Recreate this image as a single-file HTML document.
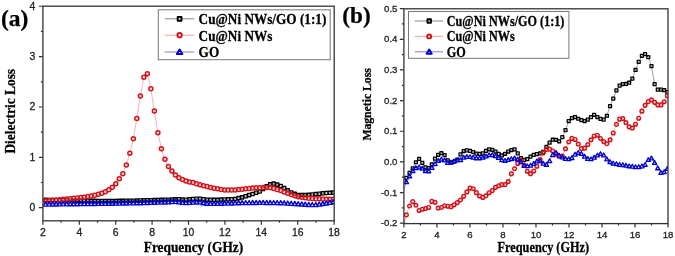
<!DOCTYPE html>
<html><head><meta charset="utf-8"><style>
html,body{margin:0;padding:0;background:#fff;}
body{width:675px;height:256px;overflow:hidden;}
svg{display:block;filter:blur(0.3px);}
.tk{font-family:"Liberation Sans",sans-serif;fill:#222;stroke:#222;stroke-width:0.3px;}
.ti,.lg{font-family:"Liberation Serif",serif;font-weight:bold;fill:#000;stroke:#000;stroke-width:0.25px;}
</style></head><body>
<svg width="675" height="256" viewBox="0 0 675 256">
<defs><clipPath id="ca"><rect x="42.9" y="6.2" width="291.3" height="214.60000000000002"/></clipPath><clipPath id="cb"><rect x="403.9" y="8.8" width="264.1" height="214.79999999999998"/></clipPath></defs>
<g clip-path="url(#ca)">
<path d="M42.9 199.64 L45.63 199.76 L49.14 199.9 L52.65 200.05 L56.16 200.19 L59.66 200.34 L63.17 200.43 L66.68 200.48 L70.19 200.52 L73.7 200.57 L77.21 200.62 L80.71 200.67 L84.22 200.72 L87.73 200.77 L91.24 200.81 L94.75 200.86 L98.26 200.9 L101.76 200.9 L105.27 200.9 L108.78 200.9 L112.29 200.9 L115.8 200.9 L119.31 200.85 L122.82 200.8 L126.32 200.75 L129.83 200.71 L133.34 200.66 L136.85 200.57 L140.36 200.47 L143.87 200.37 L147.37 200.28 L150.88 200.18 L154.39 200.08 L157.9 199.99 L161.41 199.89 L164.92 199.79 L168.43 199.69 L171.93 199.55 L175.44 199.36 L178.95 199.16 L182.46 199.56 L185.97 199.77 L189.48 199.38 L192.98 199 L196.49 198.77 L200 198.72 L203.51 199.2 L207.02 199.65 L210.53 199.75 L214.03 199.85 L217.54 199.8 L221.05 199.6 L224.56 199.41 L228.07 199.3 L231.58 199.21 L235.09 198.9 L238.59 198.12 L242.1 197.35 L245.61 196.29 L249.12 195.13 L252.63 193.95 L256.14 192.74 L259.64 191.46 L263.15 188.87 L266.66 186.31 L270.17 184.31 L273.68 183.57 L277.19 184.64 L280.7 186.03 L284.2 188.11 L287.71 190.34 L291.22 192.42 L294.73 193.88 L298.24 195.11 L301.75 195.11 L305.25 195.11 L308.76 194.89 L312.27 194.5 L315.78 194.12 L319.29 193.73 L322.8 193.34 L326.3 193.02 L329.81 192.83 L333.32 192.64 L334.1 192.59" fill="none" stroke="#888888" stroke-width="0.8"/>
<path d="M44.03 198.16h3.2v3.2h-3.2zM47.54 198.3h3.2v3.2h-3.2zM51.05 198.45h3.2v3.2h-3.2zM54.56 198.59h3.2v3.2h-3.2zM58.06 198.74h3.2v3.2h-3.2zM61.57 198.83h3.2v3.2h-3.2zM65.08 198.88h3.2v3.2h-3.2zM68.59 198.92h3.2v3.2h-3.2zM72.1 198.97h3.2v3.2h-3.2zM75.61 199.02h3.2v3.2h-3.2zM79.11 199.07h3.2v3.2h-3.2zM82.62 199.12h3.2v3.2h-3.2zM86.13 199.17h3.2v3.2h-3.2zM89.64 199.21h3.2v3.2h-3.2zM93.15 199.26h3.2v3.2h-3.2zM96.66 199.3h3.2v3.2h-3.2zM100.16 199.3h3.2v3.2h-3.2zM103.67 199.3h3.2v3.2h-3.2zM107.18 199.3h3.2v3.2h-3.2zM110.69 199.3h3.2v3.2h-3.2zM114.2 199.3h3.2v3.2h-3.2zM117.71 199.25h3.2v3.2h-3.2zM121.22 199.2h3.2v3.2h-3.2zM124.72 199.15h3.2v3.2h-3.2zM128.23 199.11h3.2v3.2h-3.2zM131.74 199.06h3.2v3.2h-3.2zM135.25 198.97h3.2v3.2h-3.2zM138.76 198.87h3.2v3.2h-3.2zM142.27 198.77h3.2v3.2h-3.2zM145.77 198.68h3.2v3.2h-3.2zM149.28 198.58h3.2v3.2h-3.2zM152.79 198.48h3.2v3.2h-3.2zM156.3 198.39h3.2v3.2h-3.2zM159.81 198.29h3.2v3.2h-3.2zM163.32 198.19h3.2v3.2h-3.2zM166.83 198.09h3.2v3.2h-3.2zM170.33 197.95h3.2v3.2h-3.2zM173.84 197.76h3.2v3.2h-3.2zM177.35 197.56h3.2v3.2h-3.2zM180.86 197.96h3.2v3.2h-3.2zM184.37 198.17h3.2v3.2h-3.2zM187.88 197.78h3.2v3.2h-3.2zM191.38 197.4h3.2v3.2h-3.2zM194.89 197.17h3.2v3.2h-3.2zM198.4 197.12h3.2v3.2h-3.2zM201.91 197.6h3.2v3.2h-3.2zM205.42 198.05h3.2v3.2h-3.2zM208.93 198.15h3.2v3.2h-3.2zM212.43 198.25h3.2v3.2h-3.2zM215.94 198.2h3.2v3.2h-3.2zM219.45 198h3.2v3.2h-3.2zM222.96 197.81h3.2v3.2h-3.2zM226.47 197.7h3.2v3.2h-3.2zM229.98 197.61h3.2v3.2h-3.2zM233.49 197.3h3.2v3.2h-3.2zM236.99 196.52h3.2v3.2h-3.2zM240.5 195.75h3.2v3.2h-3.2zM244.01 194.69h3.2v3.2h-3.2zM247.52 193.53h3.2v3.2h-3.2zM251.03 192.35h3.2v3.2h-3.2zM254.54 191.14h3.2v3.2h-3.2zM258.04 189.86h3.2v3.2h-3.2zM261.55 187.27h3.2v3.2h-3.2zM265.06 184.71h3.2v3.2h-3.2zM268.57 182.71h3.2v3.2h-3.2zM272.08 181.97h3.2v3.2h-3.2zM275.59 183.04h3.2v3.2h-3.2zM279.1 184.43h3.2v3.2h-3.2zM282.6 186.51h3.2v3.2h-3.2zM286.11 188.74h3.2v3.2h-3.2zM289.62 190.82h3.2v3.2h-3.2zM293.13 192.28h3.2v3.2h-3.2zM296.64 193.51h3.2v3.2h-3.2zM300.15 193.51h3.2v3.2h-3.2zM303.65 193.51h3.2v3.2h-3.2zM307.16 193.29h3.2v3.2h-3.2zM310.67 192.9h3.2v3.2h-3.2zM314.18 192.52h3.2v3.2h-3.2zM317.69 192.13h3.2v3.2h-3.2zM321.2 191.74h3.2v3.2h-3.2zM324.7 191.42h3.2v3.2h-3.2zM328.21 191.23h3.2v3.2h-3.2zM331.72 191.04h3.2v3.2h-3.2z" fill="none" stroke="#000" stroke-width="1.35" stroke-linejoin="round"/>
<path d="M42.9 201.15 L45.63 200.93 L49.14 200.64 L52.65 200.34 L56.16 200.03 L59.66 199.72 L63.17 199.32 L66.68 199.1 L70.19 198.77 L73.7 198.33 L77.21 197.93 L80.71 197.61 L84.22 197.17 L87.73 196.57 L91.24 195.9 L94.75 195.19 L98.26 194.33 L101.76 193.16 L105.27 191.67 L108.78 189.73 L112.29 187.17 L115.8 183.73 L119.31 178.82 L122.82 173.73 L126.32 164.91 L129.83 153.34 L133.34 138.68 L136.85 118.56 L140.36 95.92 L143.87 77.31 L147.37 73.77 L150.88 88.87 L154.39 111 L157.9 132.72 L161.41 148.8 L164.92 159.36 L168.43 166.4 L171.93 170.96 L175.44 174.92 L178.95 177.78 L182.46 179.48 L185.97 181.01 L189.48 181.94 L192.98 182.51 L196.49 183.82 L200 184.8 L203.51 185.72 L207.02 186.62 L210.53 187.4 L214.03 188.17 L217.54 188.85 L221.05 189.44 L224.56 190.02 L228.07 190.07 L231.58 190.07 L235.09 189.95 L238.59 189.57 L242.1 189.18 L245.61 188.79 L249.12 188.4 L252.63 188.04 L256.14 187.84 L259.64 187.65 L263.15 187.56 L266.66 187.56 L270.17 187.56 L273.68 188.46 L277.19 189.43 L280.7 190.54 L284.2 191.9 L287.71 193.26 L291.22 194.47 L294.73 195.63 L298.24 196.71 L301.75 197.29 L305.25 197.87 L308.76 198.24 L312.27 198.43 L315.78 198.63 L319.29 198.82 L322.8 199.02 L326.3 199.14 L329.81 199.14 L333.32 199.14 L334.1 199.14" fill="none" stroke="#f0a0a0" stroke-width="0.8"/>
<path d="M43.63 200.93a2 2 0 1 0 4 0a2 2 0 1 0 -4 0M47.14 200.64a2 2 0 1 0 4 0a2 2 0 1 0 -4 0M50.65 200.34a2 2 0 1 0 4 0a2 2 0 1 0 -4 0M54.16 200.03a2 2 0 1 0 4 0a2 2 0 1 0 -4 0M57.66 199.72a2 2 0 1 0 4 0a2 2 0 1 0 -4 0M61.17 199.32a2 2 0 1 0 4 0a2 2 0 1 0 -4 0M64.68 199.1a2 2 0 1 0 4 0a2 2 0 1 0 -4 0M68.19 198.77a2 2 0 1 0 4 0a2 2 0 1 0 -4 0M71.7 198.33a2 2 0 1 0 4 0a2 2 0 1 0 -4 0M75.21 197.93a2 2 0 1 0 4 0a2 2 0 1 0 -4 0M78.71 197.61a2 2 0 1 0 4 0a2 2 0 1 0 -4 0M82.22 197.17a2 2 0 1 0 4 0a2 2 0 1 0 -4 0M85.73 196.57a2 2 0 1 0 4 0a2 2 0 1 0 -4 0M89.24 195.9a2 2 0 1 0 4 0a2 2 0 1 0 -4 0M92.75 195.19a2 2 0 1 0 4 0a2 2 0 1 0 -4 0M96.26 194.33a2 2 0 1 0 4 0a2 2 0 1 0 -4 0M99.76 193.16a2 2 0 1 0 4 0a2 2 0 1 0 -4 0M103.27 191.67a2 2 0 1 0 4 0a2 2 0 1 0 -4 0M106.78 189.73a2 2 0 1 0 4 0a2 2 0 1 0 -4 0M110.29 187.17a2 2 0 1 0 4 0a2 2 0 1 0 -4 0M113.8 183.73a2 2 0 1 0 4 0a2 2 0 1 0 -4 0M117.31 178.82a2 2 0 1 0 4 0a2 2 0 1 0 -4 0M120.82 173.73a2 2 0 1 0 4 0a2 2 0 1 0 -4 0M124.32 164.91a2 2 0 1 0 4 0a2 2 0 1 0 -4 0M127.83 153.34a2 2 0 1 0 4 0a2 2 0 1 0 -4 0M131.34 138.68a2 2 0 1 0 4 0a2 2 0 1 0 -4 0M134.85 118.56a2 2 0 1 0 4 0a2 2 0 1 0 -4 0M138.36 95.92a2 2 0 1 0 4 0a2 2 0 1 0 -4 0M141.87 77.31a2 2 0 1 0 4 0a2 2 0 1 0 -4 0M145.37 73.77a2 2 0 1 0 4 0a2 2 0 1 0 -4 0M148.88 88.87a2 2 0 1 0 4 0a2 2 0 1 0 -4 0M152.39 111a2 2 0 1 0 4 0a2 2 0 1 0 -4 0M155.9 132.72a2 2 0 1 0 4 0a2 2 0 1 0 -4 0M159.41 148.8a2 2 0 1 0 4 0a2 2 0 1 0 -4 0M162.92 159.36a2 2 0 1 0 4 0a2 2 0 1 0 -4 0M166.43 166.4a2 2 0 1 0 4 0a2 2 0 1 0 -4 0M169.93 170.96a2 2 0 1 0 4 0a2 2 0 1 0 -4 0M173.44 174.92a2 2 0 1 0 4 0a2 2 0 1 0 -4 0M176.95 177.78a2 2 0 1 0 4 0a2 2 0 1 0 -4 0M180.46 179.48a2 2 0 1 0 4 0a2 2 0 1 0 -4 0M183.97 181.01a2 2 0 1 0 4 0a2 2 0 1 0 -4 0M187.48 181.94a2 2 0 1 0 4 0a2 2 0 1 0 -4 0M190.98 182.51a2 2 0 1 0 4 0a2 2 0 1 0 -4 0M194.49 183.82a2 2 0 1 0 4 0a2 2 0 1 0 -4 0M198 184.8a2 2 0 1 0 4 0a2 2 0 1 0 -4 0M201.51 185.72a2 2 0 1 0 4 0a2 2 0 1 0 -4 0M205.02 186.62a2 2 0 1 0 4 0a2 2 0 1 0 -4 0M208.53 187.4a2 2 0 1 0 4 0a2 2 0 1 0 -4 0M212.03 188.17a2 2 0 1 0 4 0a2 2 0 1 0 -4 0M215.54 188.85a2 2 0 1 0 4 0a2 2 0 1 0 -4 0M219.05 189.44a2 2 0 1 0 4 0a2 2 0 1 0 -4 0M222.56 190.02a2 2 0 1 0 4 0a2 2 0 1 0 -4 0M226.07 190.07a2 2 0 1 0 4 0a2 2 0 1 0 -4 0M229.58 190.07a2 2 0 1 0 4 0a2 2 0 1 0 -4 0M233.09 189.95a2 2 0 1 0 4 0a2 2 0 1 0 -4 0M236.59 189.57a2 2 0 1 0 4 0a2 2 0 1 0 -4 0M240.1 189.18a2 2 0 1 0 4 0a2 2 0 1 0 -4 0M243.61 188.79a2 2 0 1 0 4 0a2 2 0 1 0 -4 0M247.12 188.4a2 2 0 1 0 4 0a2 2 0 1 0 -4 0M250.63 188.04a2 2 0 1 0 4 0a2 2 0 1 0 -4 0M254.14 187.84a2 2 0 1 0 4 0a2 2 0 1 0 -4 0M257.64 187.65a2 2 0 1 0 4 0a2 2 0 1 0 -4 0M261.15 187.56a2 2 0 1 0 4 0a2 2 0 1 0 -4 0M264.66 187.56a2 2 0 1 0 4 0a2 2 0 1 0 -4 0M268.17 187.56a2 2 0 1 0 4 0a2 2 0 1 0 -4 0M271.68 188.46a2 2 0 1 0 4 0a2 2 0 1 0 -4 0M275.19 189.43a2 2 0 1 0 4 0a2 2 0 1 0 -4 0M278.7 190.54a2 2 0 1 0 4 0a2 2 0 1 0 -4 0M282.2 191.9a2 2 0 1 0 4 0a2 2 0 1 0 -4 0M285.71 193.26a2 2 0 1 0 4 0a2 2 0 1 0 -4 0M289.22 194.47a2 2 0 1 0 4 0a2 2 0 1 0 -4 0M292.73 195.63a2 2 0 1 0 4 0a2 2 0 1 0 -4 0M296.24 196.71a2 2 0 1 0 4 0a2 2 0 1 0 -4 0M299.75 197.29a2 2 0 1 0 4 0a2 2 0 1 0 -4 0M303.25 197.87a2 2 0 1 0 4 0a2 2 0 1 0 -4 0M306.76 198.24a2 2 0 1 0 4 0a2 2 0 1 0 -4 0M310.27 198.43a2 2 0 1 0 4 0a2 2 0 1 0 -4 0M313.78 198.63a2 2 0 1 0 4 0a2 2 0 1 0 -4 0M317.29 198.82a2 2 0 1 0 4 0a2 2 0 1 0 -4 0M320.8 199.02a2 2 0 1 0 4 0a2 2 0 1 0 -4 0M324.3 199.14a2 2 0 1 0 4 0a2 2 0 1 0 -4 0M327.81 199.14a2 2 0 1 0 4 0a2 2 0 1 0 -4 0M331.32 199.14a2 2 0 1 0 4 0a2 2 0 1 0 -4 0" fill="none" stroke="#d41018" stroke-width="1.5" stroke-linejoin="round"/>
<path d="M42.9 204.17 L45.63 204.14 L49.14 204.09 L52.65 204.04 L56.16 203.99 L59.66 203.94 L63.17 203.89 L66.68 203.85 L70.19 203.8 L73.7 203.75 L77.21 203.7 L80.71 203.65 L84.22 203.6 L87.73 203.55 L91.24 203.51 L94.75 203.46 L98.26 203.41 L101.76 203.36 L105.27 203.31 L108.78 203.26 L112.29 203.21 L115.8 203.17 L119.31 203.1 L122.82 203.04 L126.32 202.97 L129.83 202.9 L133.34 202.84 L136.85 202.77 L140.36 202.71 L143.87 202.58 L147.37 202.46 L150.88 202.35 L154.39 202.26 L157.9 202.16 L161.41 202.06 L164.92 201.96 L168.43 201.81 L171.93 201.61 L175.44 201.41 L178.95 201.88 L182.46 202.38 L185.97 202.58 L189.48 202.38 L192.98 202.18 L196.49 202.04 L200 201.92 L203.51 202.73 L207.02 203.21 L210.53 203.32 L214.03 203.42 L217.54 203.34 L221.05 203.26 L224.56 203.18 L228.07 203.08 L231.58 202.98 L235.09 202.89 L238.59 202.79 L242.1 202.69 L245.61 202.63 L249.12 202.58 L252.63 202.53 L256.14 202.48 L259.64 202.44 L263.15 202.44 L266.66 202.49 L270.17 202.53 L273.68 202.58 L277.19 202.63 L280.7 202.73 L284.2 202.92 L287.71 203.12 L291.22 203.31 L294.73 203.51 L298.24 203.72 L301.75 204.01 L305.25 204.3 L308.76 204.48 L312.27 204.58 L315.78 204.68 L319.29 204.12 L322.8 203.53 L326.3 202.95 L329.81 202.37 L333.32 201.79 L334.1 201.66" fill="none" stroke="#8080e0" stroke-width="0.8"/>
<path d="M45.63 202.04L47.94 206.13L43.32 206.13zM49.14 201.99L51.45 206.08L46.83 206.08zM52.65 201.94L54.96 206.03L50.34 206.03zM56.16 201.89L58.47 205.99L53.85 205.99zM59.66 201.84L61.97 205.94L57.35 205.94zM63.17 201.79L65.48 205.89L60.86 205.89zM66.68 201.75L68.99 205.84L64.37 205.84zM70.19 201.7L72.5 205.79L67.88 205.79zM73.7 201.65L76.01 205.74L71.39 205.74zM77.21 201.6L79.52 205.7L74.9 205.7zM80.71 201.55L83.02 205.65L78.4 205.65zM84.22 201.5L86.53 205.6L81.91 205.6zM87.73 201.45L90.04 205.55L85.42 205.55zM91.24 201.41L93.55 205.5L88.93 205.5zM94.75 201.36L97.06 205.45L92.44 205.45zM98.26 201.31L100.57 205.4L95.95 205.4zM101.76 201.26L104.07 205.36L99.45 205.36zM105.27 201.21L107.58 205.31L102.96 205.31zM108.78 201.16L111.09 205.26L106.47 205.26zM112.29 201.11L114.6 205.21L109.98 205.21zM115.8 201.07L118.11 205.16L113.49 205.16zM119.31 201L121.62 205.1L117 205.1zM122.82 200.94L125.13 205.03L120.51 205.03zM126.32 200.87L128.63 204.97L124.01 204.97zM129.83 200.8L132.14 204.9L127.52 204.9zM133.34 200.74L135.65 204.83L131.03 204.83zM136.85 200.67L139.16 204.77L134.54 204.77zM140.36 200.61L142.67 204.7L138.05 204.7zM143.87 200.48L146.18 204.58L141.56 204.58zM147.37 200.36L149.68 204.46L145.06 204.46zM150.88 200.25L153.19 204.35L148.57 204.35zM154.39 200.16L156.7 204.25L152.08 204.25zM157.9 200.06L160.21 204.15L155.59 204.15zM161.41 199.96L163.72 204.05L159.1 204.05zM164.92 199.86L167.23 203.95L162.61 203.95zM168.43 199.71L170.74 203.8L166.12 203.8zM171.93 199.51L174.24 203.61L169.62 203.61zM175.44 199.31L177.75 203.41L173.13 203.41zM178.95 199.78L181.26 203.88L176.64 203.88zM182.46 200.28L184.77 204.37L180.15 204.37zM185.97 200.48L188.28 204.58L183.66 204.58zM189.48 200.28L191.79 204.38L187.17 204.38zM192.98 200.08L195.29 204.18L190.67 204.18zM196.49 199.94L198.8 204.04L194.18 204.04zM200 199.82L202.31 203.91L197.69 203.91zM203.51 200.63L205.82 204.72L201.2 204.72zM207.02 201.11L209.33 205.21L204.71 205.21zM210.53 201.22L212.84 205.31L208.22 205.31zM214.03 201.32L216.34 205.41L211.72 205.41zM217.54 201.24L219.85 205.33L215.23 205.33zM221.05 201.16L223.36 205.25L218.74 205.25zM224.56 201.08L226.87 205.17L222.25 205.17zM228.07 200.98L230.38 205.07L225.76 205.07zM231.58 200.88L233.89 204.98L229.27 204.98zM235.09 200.79L237.4 204.88L232.78 204.88zM238.59 200.69L240.9 204.78L236.28 204.78zM242.1 200.59L244.41 204.69L239.79 204.69zM245.61 200.53L247.92 204.62L243.3 204.62zM249.12 200.48L251.43 204.58L246.81 204.58zM252.63 200.43L254.94 204.53L250.32 204.53zM256.14 200.38L258.45 204.48L253.83 204.48zM259.64 200.34L261.95 204.43L257.33 204.43zM263.15 200.34L265.46 204.43L260.84 204.43zM266.66 200.39L268.97 204.48L264.35 204.48zM270.17 200.43L272.48 204.53L267.86 204.53zM273.68 200.48L275.99 204.58L271.37 204.58zM277.19 200.53L279.5 204.63L274.88 204.63zM280.7 200.63L283.01 204.73L278.39 204.73zM284.2 200.82L286.51 204.92L281.89 204.92zM287.71 201.02L290.02 205.11L285.4 205.11zM291.22 201.21L293.53 205.31L288.91 205.31zM294.73 201.41L297.04 205.5L292.42 205.5zM298.24 201.62L300.55 205.71L295.93 205.71zM301.75 201.91L304.06 206L299.44 206zM305.25 202.2L307.56 206.29L302.94 206.29zM308.76 202.38L311.07 206.48L306.45 206.48zM312.27 202.48L314.58 206.57L309.96 206.57zM315.78 202.58L318.09 206.67L313.47 206.67zM319.29 202.02L321.6 206.11L316.98 206.11zM322.8 201.43L325.11 205.53L320.49 205.53zM326.3 200.85L328.61 204.95L323.99 204.95zM329.81 200.27L332.12 204.36L327.5 204.36zM333.32 199.69L335.63 203.78L331.01 203.78z" fill="none" stroke="#0000d0" stroke-width="1.35" stroke-linejoin="round"/>
</g>
<rect x="42.9" y="6.2" width="291.3" height="214.6" fill="none" stroke="#333" stroke-width="1.3"/>
<path d="M42.9 220.8v4M61.1 220.8v2M79.3 220.8v4M97.5 220.8v2M115.7 220.8v4M133.9 220.8v2M152.1 220.8v4M170.3 220.8v2M188.5 220.8v4M206.7 220.8v2M224.9 220.8v4M243.1 220.8v2M261.3 220.8v4M279.5 220.8v2M297.7 220.8v4M315.9 220.8v2M334.1 220.8v4M42.9 207.7h-4M42.9 182.52h-2M42.9 157.34h-4M42.9 132.16h-2M42.9 106.98h-4M42.9 81.8h-2M42.9 56.62h-4M42.9 31.44h-2M42.9 6.26h-4" stroke="#333" stroke-width="1.2" fill="none"/>
<text class="tk" text-anchor="middle" transform="translate(42.9 232.4) scale(1 1.04)" y="3.72" style="font-size:10.4px">2</text>
<text class="tk" text-anchor="middle" transform="translate(79.3 232.4) scale(1 1.04)" y="3.72" style="font-size:10.4px">4</text>
<text class="tk" text-anchor="middle" transform="translate(115.7 232.4) scale(1 1.04)" y="3.72" style="font-size:10.4px">6</text>
<text class="tk" text-anchor="middle" transform="translate(152.1 232.4) scale(1 1.04)" y="3.72" style="font-size:10.4px">8</text>
<text class="tk" text-anchor="middle" transform="translate(188.5 232.4) scale(1 1.04)" y="3.72" style="font-size:10.4px">10</text>
<text class="tk" text-anchor="middle" transform="translate(224.9 232.4) scale(1 1.04)" y="3.72" style="font-size:10.4px">12</text>
<text class="tk" text-anchor="middle" transform="translate(261.3 232.4) scale(1 1.04)" y="3.72" style="font-size:10.4px">14</text>
<text class="tk" text-anchor="middle" transform="translate(297.7 232.4) scale(1 1.04)" y="3.72" style="font-size:10.4px">16</text>
<text class="tk" text-anchor="middle" transform="translate(334.1 232.4) scale(1 1.04)" y="3.72" style="font-size:10.4px">18</text>
<text class="tk" text-anchor="end" transform="translate(35.2 207.1) scale(1 1.04)" y="3.72" style="font-size:10.4px">0</text>
<text class="tk" text-anchor="end" transform="translate(35.2 156.74) scale(1 1.04)" y="3.72" style="font-size:10.4px">1</text>
<text class="tk" text-anchor="end" transform="translate(35.2 106.38) scale(1 1.04)" y="3.72" style="font-size:10.4px">2</text>
<text class="tk" text-anchor="end" transform="translate(35.2 56.02) scale(1 1.04)" y="3.72" style="font-size:10.4px">3</text>
<text class="tk" text-anchor="end" transform="translate(35.2 5.66) scale(1 1.04)" y="3.72" style="font-size:10.4px">4</text>
<rect x="158.3" y="9.8" width="171.9" height="49.9" fill="#fff" stroke="#777" stroke-width="1"/>
<path d="M164.8 18.8H194.3" stroke="#888888" stroke-width="1"/>
<rect x="177.75" y="16.95" width="3.7" height="3.7" fill="#fff" stroke="#000" stroke-width="2" stroke-linejoin="round"/>
<text class="lg" transform="translate(198.6 19.1) scale(1 1.15)" y="4.37" style="font-size:13.25px">Cu@Ni NWs/GO (1:1)</text>
<path d="M164.8 35.2H194.3" stroke="#f0a0a0" stroke-width="1"/>
<circle cx="179.6" cy="35.2" r="2.15" fill="#fff" stroke="#d41018" stroke-width="1.95"/>
<text class="lg" transform="translate(198.6 35.5) scale(1 1.15)" y="4.37" style="font-size:13.25px">Cu@Ni NWs</text>
<path d="M164.8 52H194.3" stroke="#8080e0" stroke-width="1"/>
<path d="M179.6 49.47L182.36 54.07L176.84 54.07z" fill="#fff" stroke="#0000d0" stroke-width="1.9" stroke-linejoin="round"/>
<text class="lg" transform="translate(198.6 52.3) scale(1 1.15)" y="4.37" style="font-size:13.25px">GO</text>
<text class="ti" transform="translate(143.8 246.9) scale(1 1.1)" y="4.41" style="font-size:13.35px">Frequency (GHz)</text>
<text class="ti" transform="translate(9.7 153.6) rotate(-90) scale(1 1.12)" y="4.44" style="font-size:13.45px">Dielectric Loss</text>
<text class="ti" x="0.9" y="25.9" style="font-size:23.5px">(a)</text>
<g clip-path="url(#cb)">
<path d="M403.9 183.36 L406.38 177.95 L409.56 172.94 L412.74 168.33 L415.92 162.25 L419.11 158.99 L422.29 162.85 L425.47 167.44 L428.66 168.03 L431.84 164.5 L435.02 158.66 L438.2 154.77 L441.39 153.22 L444.57 155.24 L447.75 160.31 L450.93 162.5 L454.12 161.57 L457.3 159.64 L460.48 154.42 L463.66 151.02 L466.85 150.38 L470.03 150.81 L473.21 152.03 L476.39 153.64 L479.58 153.91 L482.76 153.42 L485.94 150.88 L489.13 149.28 L492.31 149.79 L495.49 151.53 L498.67 153.93 L501.86 155.48 L505.04 153.78 L508.22 151.55 L511.4 150.03 L514.59 149.42 L517.77 153.37 L520.95 158 L524.13 159.96 L527.32 159.17 L530.5 156.64 L533.68 154.85 L536.87 154.11 L540.05 153.48 L543.23 151.94 L546.41 146.89 L549.6 142.67 L552.78 139.72 L555.96 139.8 L559.14 141.31 L562.33 137.17 L565.51 130.08 L568.69 121.11 L571.87 118.12 L575.06 117.08 L578.24 118.75 L581.42 120.16 L584.6 121.03 L587.79 119.59 L590.97 117.11 L594.15 114.78 L597.34 117.01 L600.52 118.86 L603.7 119.59 L606.88 115.75 L610.07 106.17 L613.25 98.63 L616.43 90.4 L619.61 85.56 L622.8 84.05 L625.98 83.98 L629.16 82.74 L632.34 78.6 L635.53 69.97 L638.71 61.89 L641.89 55.77 L645.08 54.1 L648.26 57.22 L651.44 66.14 L654.62 84.11 L657.81 89.57 L660.99 89.57 L664.17 90.21 L667.35 92.11 L668.06 92.63" fill="none" stroke="#888888" stroke-width="0.8"/>
<path d="M404.9 176.47h2.94v2.94h-2.94zM408.09 171.47h2.94v2.94h-2.94zM411.27 166.86h2.94v2.94h-2.94zM414.45 160.78h2.94v2.94h-2.94zM417.64 157.52h2.94v2.94h-2.94zM420.82 161.38h2.94v2.94h-2.94zM424 165.97h2.94v2.94h-2.94zM427.18 166.56h2.94v2.94h-2.94zM430.37 163.02h2.94v2.94h-2.94zM433.55 157.19h2.94v2.94h-2.94zM436.73 153.3h2.94v2.94h-2.94zM439.91 151.75h2.94v2.94h-2.94zM443.1 153.77h2.94v2.94h-2.94zM446.28 158.83h2.94v2.94h-2.94zM449.46 161.03h2.94v2.94h-2.94zM452.64 160.1h2.94v2.94h-2.94zM455.83 158.17h2.94v2.94h-2.94zM459.01 152.95h2.94v2.94h-2.94zM462.19 149.55h2.94v2.94h-2.94zM465.37 148.91h2.94v2.94h-2.94zM468.56 149.34h2.94v2.94h-2.94zM471.74 150.56h2.94v2.94h-2.94zM474.92 152.17h2.94v2.94h-2.94zM478.11 152.44h2.94v2.94h-2.94zM481.29 151.94h2.94v2.94h-2.94zM484.47 149.41h2.94v2.94h-2.94zM487.65 147.81h2.94v2.94h-2.94zM490.84 148.32h2.94v2.94h-2.94zM494.02 150.06h2.94v2.94h-2.94zM497.2 152.46h2.94v2.94h-2.94zM500.38 154h2.94v2.94h-2.94zM503.57 152.31h2.94v2.94h-2.94zM506.75 150.07h2.94v2.94h-2.94zM509.93 148.55h2.94v2.94h-2.94zM513.11 147.94h2.94v2.94h-2.94zM516.3 151.9h2.94v2.94h-2.94zM519.48 156.53h2.94v2.94h-2.94zM522.66 158.48h2.94v2.94h-2.94zM525.85 157.7h2.94v2.94h-2.94zM529.03 155.17h2.94v2.94h-2.94zM532.21 153.38h2.94v2.94h-2.94zM535.39 152.64h2.94v2.94h-2.94zM538.58 152.01h2.94v2.94h-2.94zM541.76 150.47h2.94v2.94h-2.94zM544.94 145.42h2.94v2.94h-2.94zM548.12 141.2h2.94v2.94h-2.94zM551.31 138.25h2.94v2.94h-2.94zM554.49 138.33h2.94v2.94h-2.94zM557.67 139.83h2.94v2.94h-2.94zM560.85 135.7h2.94v2.94h-2.94zM564.04 128.61h2.94v2.94h-2.94zM567.22 119.64h2.94v2.94h-2.94zM570.4 116.64h2.94v2.94h-2.94zM573.58 115.61h2.94v2.94h-2.94zM576.77 117.28h2.94v2.94h-2.94zM579.95 118.69h2.94v2.94h-2.94zM583.13 119.55h2.94v2.94h-2.94zM586.32 118.12h2.94v2.94h-2.94zM589.5 115.64h2.94v2.94h-2.94zM592.68 113.3h2.94v2.94h-2.94zM595.86 115.54h2.94v2.94h-2.94zM599.05 117.39h2.94v2.94h-2.94zM602.23 118.12h2.94v2.94h-2.94zM605.41 114.28h2.94v2.94h-2.94zM608.59 104.7h2.94v2.94h-2.94zM611.78 97.16h2.94v2.94h-2.94zM614.96 88.93h2.94v2.94h-2.94zM618.14 84.09h2.94v2.94h-2.94zM621.32 82.58h2.94v2.94h-2.94zM624.51 82.51h2.94v2.94h-2.94zM627.69 81.27h2.94v2.94h-2.94zM630.87 77.13h2.94v2.94h-2.94zM634.06 68.5h2.94v2.94h-2.94zM637.24 60.42h2.94v2.94h-2.94zM640.42 54.3h2.94v2.94h-2.94zM643.6 52.63h2.94v2.94h-2.94zM646.79 55.74h2.94v2.94h-2.94zM649.97 64.67h2.94v2.94h-2.94zM653.15 82.64h2.94v2.94h-2.94zM656.33 88.09h2.94v2.94h-2.94zM659.52 88.09h2.94v2.94h-2.94zM662.7 88.74h2.94v2.94h-2.94zM665.88 90.63h2.94v2.94h-2.94z" fill="none" stroke="#000" stroke-width="1.3" stroke-linejoin="round"/>
<path d="M403.9 226.26 L406.38 214.91 L409.56 206.02 L412.74 201.62 L415.92 205.29 L419.11 210.46 L422.29 209.21 L425.47 208.54 L428.66 207.45 L431.84 201.39 L435.02 202.28 L438.2 208.04 L441.39 207.45 L444.57 205.72 L447.75 206.24 L450.93 206.65 L454.12 204.83 L457.3 202.62 L460.48 199.95 L463.66 196.32 L466.85 191.89 L470.03 188.11 L473.21 188.73 L476.39 192.66 L479.58 195.95 L482.76 197.43 L485.94 195.8 L489.13 192.69 L492.31 190.57 L495.49 187.36 L498.67 185.75 L501.86 184.58 L505.04 184.58 L508.22 181.57 L511.4 173.86 L514.59 168.79 L517.77 163.48 L520.95 160.24 L524.13 165.01 L527.32 171.23 L530.5 173.79 L533.68 170.97 L536.87 166.23 L540.05 159.63 L543.23 152.91 L546.41 149.34 L549.6 149.16 L552.78 150.97 L555.96 153.88 L559.14 156.31 L562.33 156.09 L565.51 148.8 L568.69 141.98 L571.87 138.38 L575.06 139.45 L578.24 144.04 L581.42 148.54 L584.6 148.18 L587.79 144.54 L590.97 139.82 L594.15 135.98 L597.34 135.2 L600.52 138.48 L603.7 141.61 L606.88 143.76 L610.07 139.85 L613.25 132.95 L616.43 124.4 L619.61 119.15 L622.8 118.54 L625.98 122.51 L629.16 126.83 L632.34 128.06 L635.53 124.22 L638.71 118.22 L641.89 111.13 L645.08 105.34 L648.26 101.6 L651.44 99.85 L654.62 102.37 L657.81 104.92 L660.99 104.88 L664.17 101.69 L667.35 95.78 L668.06 94.47" fill="none" stroke="#f0a0a0" stroke-width="0.8"/>
<path d="M404.54 214.91a1.84 1.84 0 1 0 3.68 0a1.84 1.84 0 1 0 -3.68 0M407.72 206.02a1.84 1.84 0 1 0 3.68 0a1.84 1.84 0 1 0 -3.68 0M410.9 201.62a1.84 1.84 0 1 0 3.68 0a1.84 1.84 0 1 0 -3.68 0M414.08 205.29a1.84 1.84 0 1 0 3.68 0a1.84 1.84 0 1 0 -3.68 0M417.27 210.46a1.84 1.84 0 1 0 3.68 0a1.84 1.84 0 1 0 -3.68 0M420.45 209.21a1.84 1.84 0 1 0 3.68 0a1.84 1.84 0 1 0 -3.68 0M423.63 208.54a1.84 1.84 0 1 0 3.68 0a1.84 1.84 0 1 0 -3.68 0M426.82 207.45a1.84 1.84 0 1 0 3.68 0a1.84 1.84 0 1 0 -3.68 0M430 201.39a1.84 1.84 0 1 0 3.68 0a1.84 1.84 0 1 0 -3.68 0M433.18 202.28a1.84 1.84 0 1 0 3.68 0a1.84 1.84 0 1 0 -3.68 0M436.36 208.04a1.84 1.84 0 1 0 3.68 0a1.84 1.84 0 1 0 -3.68 0M439.55 207.45a1.84 1.84 0 1 0 3.68 0a1.84 1.84 0 1 0 -3.68 0M442.73 205.72a1.84 1.84 0 1 0 3.68 0a1.84 1.84 0 1 0 -3.68 0M445.91 206.24a1.84 1.84 0 1 0 3.68 0a1.84 1.84 0 1 0 -3.68 0M449.09 206.65a1.84 1.84 0 1 0 3.68 0a1.84 1.84 0 1 0 -3.68 0M452.28 204.83a1.84 1.84 0 1 0 3.68 0a1.84 1.84 0 1 0 -3.68 0M455.46 202.62a1.84 1.84 0 1 0 3.68 0a1.84 1.84 0 1 0 -3.68 0M458.64 199.95a1.84 1.84 0 1 0 3.68 0a1.84 1.84 0 1 0 -3.68 0M461.82 196.32a1.84 1.84 0 1 0 3.68 0a1.84 1.84 0 1 0 -3.68 0M465.01 191.89a1.84 1.84 0 1 0 3.68 0a1.84 1.84 0 1 0 -3.68 0M468.19 188.11a1.84 1.84 0 1 0 3.68 0a1.84 1.84 0 1 0 -3.68 0M471.37 188.73a1.84 1.84 0 1 0 3.68 0a1.84 1.84 0 1 0 -3.68 0M474.55 192.66a1.84 1.84 0 1 0 3.68 0a1.84 1.84 0 1 0 -3.68 0M477.74 195.95a1.84 1.84 0 1 0 3.68 0a1.84 1.84 0 1 0 -3.68 0M480.92 197.43a1.84 1.84 0 1 0 3.68 0a1.84 1.84 0 1 0 -3.68 0M484.1 195.8a1.84 1.84 0 1 0 3.68 0a1.84 1.84 0 1 0 -3.68 0M487.29 192.69a1.84 1.84 0 1 0 3.68 0a1.84 1.84 0 1 0 -3.68 0M490.47 190.57a1.84 1.84 0 1 0 3.68 0a1.84 1.84 0 1 0 -3.68 0M493.65 187.36a1.84 1.84 0 1 0 3.68 0a1.84 1.84 0 1 0 -3.68 0M496.83 185.75a1.84 1.84 0 1 0 3.68 0a1.84 1.84 0 1 0 -3.68 0M500.02 184.58a1.84 1.84 0 1 0 3.68 0a1.84 1.84 0 1 0 -3.68 0M503.2 184.58a1.84 1.84 0 1 0 3.68 0a1.84 1.84 0 1 0 -3.68 0M506.38 181.57a1.84 1.84 0 1 0 3.68 0a1.84 1.84 0 1 0 -3.68 0M509.56 173.86a1.84 1.84 0 1 0 3.68 0a1.84 1.84 0 1 0 -3.68 0M512.75 168.79a1.84 1.84 0 1 0 3.68 0a1.84 1.84 0 1 0 -3.68 0M515.93 163.48a1.84 1.84 0 1 0 3.68 0a1.84 1.84 0 1 0 -3.68 0M519.11 160.24a1.84 1.84 0 1 0 3.68 0a1.84 1.84 0 1 0 -3.68 0M522.29 165.01a1.84 1.84 0 1 0 3.68 0a1.84 1.84 0 1 0 -3.68 0M525.48 171.23a1.84 1.84 0 1 0 3.68 0a1.84 1.84 0 1 0 -3.68 0M528.66 173.79a1.84 1.84 0 1 0 3.68 0a1.84 1.84 0 1 0 -3.68 0M531.84 170.97a1.84 1.84 0 1 0 3.68 0a1.84 1.84 0 1 0 -3.68 0M535.03 166.23a1.84 1.84 0 1 0 3.68 0a1.84 1.84 0 1 0 -3.68 0M538.21 159.63a1.84 1.84 0 1 0 3.68 0a1.84 1.84 0 1 0 -3.68 0M541.39 152.91a1.84 1.84 0 1 0 3.68 0a1.84 1.84 0 1 0 -3.68 0M544.57 149.34a1.84 1.84 0 1 0 3.68 0a1.84 1.84 0 1 0 -3.68 0M547.76 149.16a1.84 1.84 0 1 0 3.68 0a1.84 1.84 0 1 0 -3.68 0M550.94 150.97a1.84 1.84 0 1 0 3.68 0a1.84 1.84 0 1 0 -3.68 0M554.12 153.88a1.84 1.84 0 1 0 3.68 0a1.84 1.84 0 1 0 -3.68 0M557.3 156.31a1.84 1.84 0 1 0 3.68 0a1.84 1.84 0 1 0 -3.68 0M560.49 156.09a1.84 1.84 0 1 0 3.68 0a1.84 1.84 0 1 0 -3.68 0M563.67 148.8a1.84 1.84 0 1 0 3.68 0a1.84 1.84 0 1 0 -3.68 0M566.85 141.98a1.84 1.84 0 1 0 3.68 0a1.84 1.84 0 1 0 -3.68 0M570.03 138.38a1.84 1.84 0 1 0 3.68 0a1.84 1.84 0 1 0 -3.68 0M573.22 139.45a1.84 1.84 0 1 0 3.68 0a1.84 1.84 0 1 0 -3.68 0M576.4 144.04a1.84 1.84 0 1 0 3.68 0a1.84 1.84 0 1 0 -3.68 0M579.58 148.54a1.84 1.84 0 1 0 3.68 0a1.84 1.84 0 1 0 -3.68 0M582.76 148.18a1.84 1.84 0 1 0 3.68 0a1.84 1.84 0 1 0 -3.68 0M585.95 144.54a1.84 1.84 0 1 0 3.68 0a1.84 1.84 0 1 0 -3.68 0M589.13 139.82a1.84 1.84 0 1 0 3.68 0a1.84 1.84 0 1 0 -3.68 0M592.31 135.98a1.84 1.84 0 1 0 3.68 0a1.84 1.84 0 1 0 -3.68 0M595.5 135.2a1.84 1.84 0 1 0 3.68 0a1.84 1.84 0 1 0 -3.68 0M598.68 138.48a1.84 1.84 0 1 0 3.68 0a1.84 1.84 0 1 0 -3.68 0M601.86 141.61a1.84 1.84 0 1 0 3.68 0a1.84 1.84 0 1 0 -3.68 0M605.04 143.76a1.84 1.84 0 1 0 3.68 0a1.84 1.84 0 1 0 -3.68 0M608.23 139.85a1.84 1.84 0 1 0 3.68 0a1.84 1.84 0 1 0 -3.68 0M611.41 132.95a1.84 1.84 0 1 0 3.68 0a1.84 1.84 0 1 0 -3.68 0M614.59 124.4a1.84 1.84 0 1 0 3.68 0a1.84 1.84 0 1 0 -3.68 0M617.77 119.15a1.84 1.84 0 1 0 3.68 0a1.84 1.84 0 1 0 -3.68 0M620.96 118.54a1.84 1.84 0 1 0 3.68 0a1.84 1.84 0 1 0 -3.68 0M624.14 122.51a1.84 1.84 0 1 0 3.68 0a1.84 1.84 0 1 0 -3.68 0M627.32 126.83a1.84 1.84 0 1 0 3.68 0a1.84 1.84 0 1 0 -3.68 0M630.5 128.06a1.84 1.84 0 1 0 3.68 0a1.84 1.84 0 1 0 -3.68 0M633.69 124.22a1.84 1.84 0 1 0 3.68 0a1.84 1.84 0 1 0 -3.68 0M636.87 118.22a1.84 1.84 0 1 0 3.68 0a1.84 1.84 0 1 0 -3.68 0M640.05 111.13a1.84 1.84 0 1 0 3.68 0a1.84 1.84 0 1 0 -3.68 0M643.24 105.34a1.84 1.84 0 1 0 3.68 0a1.84 1.84 0 1 0 -3.68 0M646.42 101.6a1.84 1.84 0 1 0 3.68 0a1.84 1.84 0 1 0 -3.68 0M649.6 99.85a1.84 1.84 0 1 0 3.68 0a1.84 1.84 0 1 0 -3.68 0M652.78 102.37a1.84 1.84 0 1 0 3.68 0a1.84 1.84 0 1 0 -3.68 0M655.97 104.92a1.84 1.84 0 1 0 3.68 0a1.84 1.84 0 1 0 -3.68 0M659.15 104.88a1.84 1.84 0 1 0 3.68 0a1.84 1.84 0 1 0 -3.68 0M662.33 101.69a1.84 1.84 0 1 0 3.68 0a1.84 1.84 0 1 0 -3.68 0M665.51 95.78a1.84 1.84 0 1 0 3.68 0a1.84 1.84 0 1 0 -3.68 0" fill="none" stroke="#d41018" stroke-width="1.44" stroke-linejoin="round"/>
<path d="M403.9 189.49 L406.38 181.82 L409.56 175.91 L412.74 170.78 L415.92 167.73 L419.11 166.98 L422.29 168.27 L425.47 170.67 L428.66 170.93 L431.84 167.5 L435.02 163.72 L438.2 160.61 L441.39 159.14 L444.57 159.99 L447.75 162.62 L450.93 162.31 L454.12 161.07 L457.3 160.02 L460.48 159.76 L463.66 157.33 L466.85 156.51 L470.03 156.64 L473.21 157.22 L476.39 157.92 L479.58 157.92 L482.76 157.29 L485.94 156.08 L489.13 154.77 L492.31 154.72 L495.49 155.88 L498.67 157.57 L501.86 159.87 L505.04 160.44 L508.22 159.5 L511.4 158.65 L514.59 158.11 L517.77 159.16 L520.95 161.88 L524.13 165.55 L527.32 165.88 L530.5 165.21 L533.68 163.52 L536.87 161.06 L540.05 160.73 L543.23 163.24 L546.41 164.44 L549.6 160.73 L552.78 154.71 L555.96 152.53 L559.14 155.28 L562.33 157.04 L565.51 158.58 L568.69 158.84 L571.87 157.65 L575.06 154.2 L578.24 152.4 L581.42 153.45 L584.6 156.31 L587.79 158.57 L590.97 158.88 L594.15 157.25 L597.34 155.14 L600.52 153.63 L603.7 154.96 L606.88 159.02 L610.07 161.66 L613.25 163.18 L616.43 163.64 L619.61 164.41 L622.8 164.66 L625.98 165.28 L629.16 165.89 L632.34 166.21 L635.53 166.8 L638.71 166.7 L641.89 165.95 L645.08 164.43 L648.26 159.63 L651.44 158.06 L654.62 162.58 L657.81 167.93 L660.99 172.39 L664.17 171.65 L667.35 168.58 L668.06 168.03" fill="none" stroke="#8080e0" stroke-width="0.8"/>
<path d="M406.38 179.89L408.5 183.66L404.25 183.66zM409.56 173.98L411.68 177.75L407.43 177.75zM412.74 168.84L414.87 172.61L410.62 172.61zM415.92 165.79L418.05 169.56L413.8 169.56zM419.11 165.05L421.23 168.82L416.98 168.82zM422.29 166.34L424.41 170.11L420.16 170.11zM425.47 168.74L427.6 172.51L423.35 172.51zM428.66 168.99L430.78 172.76L426.53 172.76zM431.84 165.56L433.96 169.33L429.71 169.33zM435.02 161.79L437.15 165.56L432.9 165.56zM438.2 158.68L440.33 162.45L436.08 162.45zM441.39 157.21L443.51 160.98L439.26 160.98zM444.57 158.06L446.69 161.82L442.44 161.82zM447.75 160.68L449.88 164.45L445.63 164.45zM450.93 160.38L453.06 164.15L448.81 164.15zM454.12 159.14L456.24 162.91L451.99 162.91zM457.3 158.08L459.42 161.85L455.17 161.85zM460.48 157.83L462.61 161.59L458.36 161.59zM463.66 155.4L465.79 159.16L461.54 159.16zM466.85 154.58L468.97 158.34L464.72 158.34zM470.03 154.71L472.15 158.47L467.9 158.47zM473.21 155.29L475.34 159.05L471.09 159.05zM476.39 155.98L478.52 159.75L474.27 159.75zM479.58 155.98L481.7 159.75L477.45 159.75zM482.76 155.36L484.89 159.13L480.63 159.13zM485.94 154.15L488.07 157.92L483.82 157.92zM489.13 152.84L491.25 156.6L487 156.6zM492.31 152.79L494.43 156.56L490.18 156.56zM495.49 153.95L497.62 157.72L493.37 157.72zM498.67 155.64L500.8 159.4L496.55 159.4zM501.86 157.94L503.98 161.71L499.73 161.71zM505.04 158.51L507.16 162.27L502.91 162.27zM508.22 157.57L510.35 161.33L506.1 161.33zM511.4 156.72L513.53 160.49L509.28 160.49zM514.59 156.18L516.71 159.94L512.46 159.94zM517.77 157.23L519.89 161L515.64 161zM520.95 159.95L523.08 163.72L518.83 163.72zM524.13 163.62L526.26 167.39L522.01 167.39zM527.32 163.95L529.44 167.72L525.19 167.72zM530.5 163.28L532.63 167.05L528.37 167.05zM533.68 161.59L535.81 165.36L531.56 165.36zM536.87 159.13L538.99 162.9L534.74 162.9zM540.05 158.8L542.17 162.57L537.92 162.57zM543.23 161.31L545.36 165.08L541.11 165.08zM546.41 162.51L548.54 166.27L544.29 166.27zM549.6 158.8L551.72 162.57L547.47 162.57zM552.78 152.78L554.9 156.55L550.65 156.55zM555.96 150.6L558.09 154.37L553.84 154.37zM559.14 153.34L561.27 157.11L557.02 157.11zM562.33 155.11L564.45 158.88L560.2 158.88zM565.51 156.65L567.63 160.42L563.38 160.42zM568.69 156.9L570.82 160.67L566.57 160.67zM571.87 155.72L574 159.49L569.75 159.49zM575.06 152.27L577.18 156.04L572.93 156.04zM578.24 150.47L580.36 154.23L576.11 154.23zM581.42 151.52L583.55 155.29L579.3 155.29zM584.6 154.38L586.73 158.14L582.48 158.14zM587.79 156.64L589.91 160.4L585.66 160.4zM590.97 156.95L593.1 160.72L588.85 160.72zM594.15 155.32L596.28 159.08L592.03 159.08zM597.34 153.21L599.46 156.97L595.21 156.97zM600.52 151.7L602.64 155.47L598.39 155.47zM603.7 153.03L605.83 156.8L601.58 156.8zM606.88 157.09L609.01 160.86L604.76 160.86zM610.07 159.73L612.19 163.5L607.94 163.5zM613.25 161.25L615.37 165.01L611.12 165.01zM616.43 161.71L618.56 165.48L614.31 165.48zM619.61 162.48L621.74 166.25L617.49 166.25zM622.8 162.72L624.92 166.49L620.67 166.49zM625.98 163.34L628.1 167.11L623.85 167.11zM629.16 163.96L631.29 167.73L627.04 167.73zM632.34 164.28L634.47 168.05L630.22 168.05zM635.53 164.87L637.65 168.64L633.4 168.64zM638.71 164.77L640.84 168.54L636.58 168.54zM641.89 164.01L644.02 167.78L639.77 167.78zM645.08 162.5L647.2 166.27L642.95 166.27zM648.26 157.7L650.38 161.46L646.13 161.46zM651.44 156.12L653.57 159.89L649.32 159.89zM654.62 160.65L656.75 164.42L652.5 164.42zM657.81 166L659.93 169.77L655.68 169.77zM660.99 170.46L663.11 174.23L658.86 174.23zM664.17 169.71L666.3 173.48L662.05 173.48zM667.35 166.64L669.48 170.41L665.23 170.41z" fill="none" stroke="#0000d0" stroke-width="1.3" stroke-linejoin="round"/>
</g>
<rect x="403.9" y="8.8" width="264.1" height="214.8" fill="none" stroke="#333" stroke-width="1.3"/>
<path d="M403.9 223.6v4M420.41 223.6v2M436.92 223.6v4M453.43 223.6v2M469.94 223.6v4M486.45 223.6v2M502.96 223.6v4M519.47 223.6v2M535.98 223.6v4M552.49 223.6v2M569 223.6v4M585.51 223.6v2M602.02 223.6v4M618.53 223.6v2M635.04 223.6v4M651.55 223.6v2M668.06 223.6v4M403.9 223.2h-4M403.9 207.88h-2M403.9 192.55h-4M403.9 177.22h-2M403.9 161.9h-4M403.9 146.58h-2M403.9 131.25h-4M403.9 115.93h-2M403.9 100.6h-4M403.9 85.28h-2M403.9 69.95h-4M403.9 54.63h-2M403.9 39.3h-4M403.9 23.97h-2M403.9 8.65h-4" stroke="#333" stroke-width="1.2" fill="none"/>
<text class="tk" text-anchor="middle" transform="translate(403.9 234.9) scale(1 1.04)" y="3.44" style="font-size:9.6px">2</text>
<text class="tk" text-anchor="middle" transform="translate(436.92 234.9) scale(1 1.04)" y="3.44" style="font-size:9.6px">4</text>
<text class="tk" text-anchor="middle" transform="translate(469.94 234.9) scale(1 1.04)" y="3.44" style="font-size:9.6px">6</text>
<text class="tk" text-anchor="middle" transform="translate(502.96 234.9) scale(1 1.04)" y="3.44" style="font-size:9.6px">8</text>
<text class="tk" text-anchor="middle" transform="translate(535.98 234.9) scale(1 1.04)" y="3.44" style="font-size:9.6px">10</text>
<text class="tk" text-anchor="middle" transform="translate(569 234.9) scale(1 1.04)" y="3.44" style="font-size:9.6px">12</text>
<text class="tk" text-anchor="middle" transform="translate(602.02 234.9) scale(1 1.04)" y="3.44" style="font-size:9.6px">14</text>
<text class="tk" text-anchor="middle" transform="translate(635.04 234.9) scale(1 1.04)" y="3.44" style="font-size:9.6px">16</text>
<text class="tk" text-anchor="middle" transform="translate(668.06 234.9) scale(1 1.04)" y="3.44" style="font-size:9.6px">18</text>
<text class="tk" text-anchor="end" transform="translate(397.4 222.6) scale(1 1.04)" y="3.44" style="font-size:9.6px">-0.2</text>
<text class="tk" text-anchor="end" transform="translate(397.4 191.95) scale(1 1.04)" y="3.44" style="font-size:9.6px">-0.1</text>
<text class="tk" text-anchor="end" transform="translate(397.4 161.3) scale(1 1.04)" y="3.44" style="font-size:9.6px">0.0</text>
<text class="tk" text-anchor="end" transform="translate(397.4 130.65) scale(1 1.04)" y="3.44" style="font-size:9.6px">0.1</text>
<text class="tk" text-anchor="end" transform="translate(397.4 100) scale(1 1.04)" y="3.44" style="font-size:9.6px">0.2</text>
<text class="tk" text-anchor="end" transform="translate(397.4 69.35) scale(1 1.04)" y="3.44" style="font-size:9.6px">0.3</text>
<text class="tk" text-anchor="end" transform="translate(397.4 38.7) scale(1 1.04)" y="3.44" style="font-size:9.6px">0.4</text>
<text class="tk" text-anchor="end" transform="translate(397.4 8.05) scale(1 1.04)" y="3.44" style="font-size:9.6px">0.5</text>
<rect x="408.5" y="11.5" width="160.4" height="46.8" fill="#fff" stroke="#777" stroke-width="1"/>
<path d="M414.6 21H443" stroke="#888888" stroke-width="1"/>
<rect x="427.5" y="19.3" width="3.41" height="3.41" fill="#fff" stroke="#000" stroke-width="2" stroke-linejoin="round"/>
<text class="lg" transform="translate(446.8 21.3) scale(1 1.15)" y="4.03" style="font-size:12.2px">Cu@Ni NWs/GO (1:1)</text>
<path d="M414.6 36.4H443" stroke="#f0a0a0" stroke-width="1"/>
<circle cx="429.2" cy="36.4" r="1.98" fill="#fff" stroke="#d41018" stroke-width="1.95"/>
<text class="lg" transform="translate(446.8 36.7) scale(1 1.15)" y="4.03" style="font-size:12.2px">Cu@Ni NWs</text>
<path d="M414.6 51.8H443" stroke="#8080e0" stroke-width="1"/>
<path d="M429.2 49.47L431.74 53.71L426.66 53.71z" fill="#fff" stroke="#0000d0" stroke-width="1.9" stroke-linejoin="round"/>
<text class="lg" transform="translate(446.8 52.1) scale(1 1.15)" y="4.03" style="font-size:12.2px">GO</text>
<text class="ti" transform="translate(497.6 247.7) scale(1 1.1)" y="4.06" style="font-size:12.3px">Frequency (GHz)</text>
<text class="ti" transform="translate(367 140.6) rotate(-90) scale(1 1.12)" y="3.86" style="font-size:11.7px">Magnetic Loss</text>
<text class="ti" x="342.3" y="22.8" style="font-size:23.2px">(b)</text>
</svg>
</body></html>
